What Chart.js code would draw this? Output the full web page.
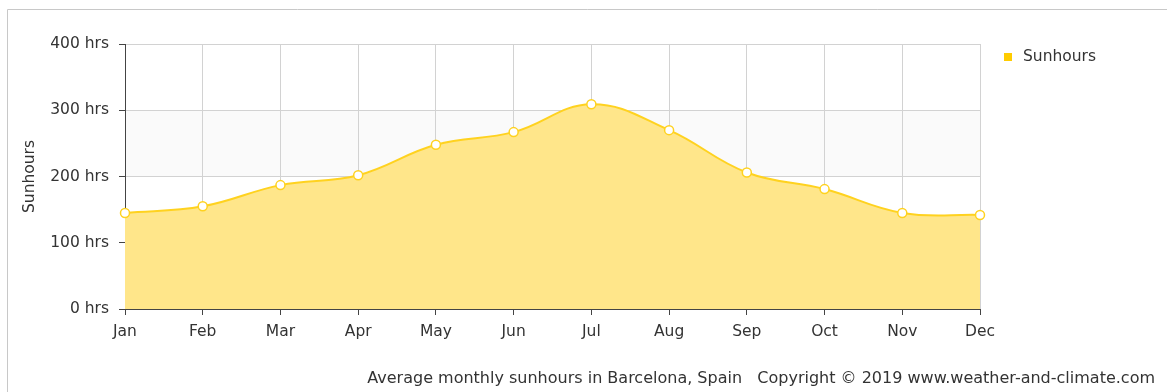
<!DOCTYPE html>
<html>
<head>
<meta charset="utf-8">
<script src="https://cdn.jsdelivr.net/npm/chart.js@4.4.1/dist/chart.umd.min.js"></script>
<style>
  html, body { margin: 0; padding: 0; background: #fff; }
  #wrap { position: relative; width: 1167px; height: 392px; }
</style>
</head>
<body>
<div id="wrap"><canvas id="c" width="1167" height="392"></canvas></div>
<script>
// Average monthly sunshine hours, Barcelona
const months = ['Jan', 'Feb', 'Mar', 'Apr', 'May', 'Jun', 'Jul', 'Aug', 'Sep', 'Oct', 'Nov', 'Dec'];
const sunhours = [145, 155, 187, 202, 248, 267, 309, 270, 206, 181, 145, 142];
const yTickValues = [0, 100, 200, 300, 400];
const yTickLabels = ['0 hrs', '100 hrs', '200 hrs', '300 hrs', '400 hrs'];
const seriesName = 'Sunhours';
const footerText = 'Average monthly sunhours in Barcelona, Spain   Copyright \u00A9 2019 www.weather-and-climate.com';

const FONT = '"DejaVu Sans", sans-serif';
const FS = 15.5;
const TEXT = '#333';
const LINE = '#ffd21f';
const FILL = '#ffe68a';
const GRID = '#d2d2d2';

// Frame, alternating bands, legend and footer
const decor = {
  id: 'decor',
  beforeDraw(chart) {
    const ctx = chart.ctx;
    const area = chart.chartArea;
    const y = chart.scales.y;
    ctx.save();
    ctx.strokeStyle = '#c8c8c8';
    ctx.lineWidth = 1;
    ctx.beginPath();
    ctx.moveTo(7.5, chart.height);
    ctx.lineTo(7.5, 9.5);
    ctx.lineTo(chart.width, 9.5);
    ctx.stroke();
    ctx.fillStyle = '#fafafa';
    for (let i = 0; i + 1 < yTickValues.length; i += 2) {
      const top = y.getPixelForValue(yTickValues[i + 1]);
      const bot = y.getPixelForValue(yTickValues[i]);
      ctx.fillRect(area.left, top, area.right - area.left, bot - top);
    }
    ctx.restore();
  },
  afterDraw(chart) {
    const ctx = chart.ctx;
    const area = chart.chartArea;
    ctx.save();
    ctx.fillStyle = '#ffcc00';
    ctx.fillRect(area.right + 24, 53, 8, 8);
    ctx.fillStyle = TEXT;
    ctx.font = FS + 'px ' + FONT;
    ctx.textBaseline = 'middle';
    ctx.textAlign = 'left';
    ctx.fillText(seriesName, area.right + 43, 57);
    ctx.font = '16px ' + FONT;
    ctx.textAlign = 'right';
    ctx.fillText(footerText, 1155, 379);
    ctx.restore();
  }
};

new Chart(document.getElementById('c'), {
  type: 'line',
  data: {
    labels: months,
    datasets: [{
      label: seriesName,
      data: sunhours,
      borderColor: LINE,
      backgroundColor: FILL,
      borderWidth: 2,
      fill: 'origin',
      tension: 0.4,
      pointRadius: 4.5,
      pointBorderWidth: 1.5,
      pointBackgroundColor: '#ffffff',
      pointBorderColor: LINE
    }]
  },
  options: {
    responsive: false,
    animation: false,
    layout: { padding: { left: 0, right: 187, top: 44, bottom: 43 } },
    plugins: {
      legend: { display: false },
      tooltip: { enabled: false }
    },
    scales: {
      x: {
        offset: false,
        afterFit(s) { s.height = 40; },
        grid: { color: GRID, tickColor: '#444', tickLength: 6, drawOnChartArea: true },
        border: { color: '#444', width: 1 },
        ticks: { color: TEXT, font: { family: FONT, size: FS }, padding: 8, maxRotation: 0, autoSkip: false }
      },
      y: {
        min: 0,
        max: 400,
        afterFit(s) { s.width = 125; },
        afterBuildTicks(s) { s.ticks = yTickValues.map(v => ({ value: v })); },
        grid: { color: GRID, tickColor: '#444', tickLength: 6 },
        border: { color: '#444', width: 1 },
        ticks: {
          color: TEXT,
          font: { family: FONT, size: FS },
          padding: 10,
          callback: (v) => yTickLabels[yTickValues.indexOf(v)]
        },
        title: {
          display: true,
          text: seriesName,
          color: TEXT,
          font: { family: FONT, size: FS },
          padding: { top: 21, bottom: 0 }
        }
      }
    }
  },
  plugins: [decor]
});
</script>
</body>
</html>
